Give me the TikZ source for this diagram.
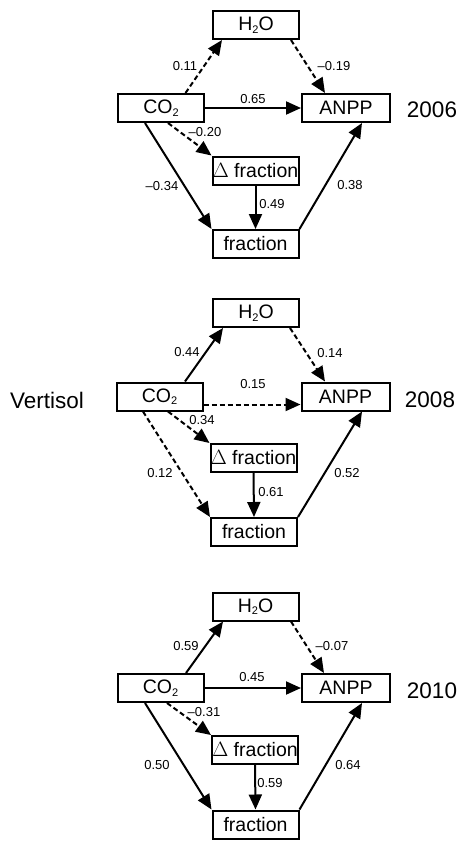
\documentclass[tikz,border=0pt]{standalone}
\usepackage{fontspec}
\setmainfont{Liberation Sans}
\usetikzlibrary{arrows.meta}
\newcommand{\subtwo}{\raisebox{-0.25ex}{\fontsize{11}{11}\selectfont 2}}
\begin{document}
\begin{tikzpicture}[x=1pt,y=-1pt,
  box/.style={draw,line width=2pt,inner sep=0pt,minimum width=86pt,minimum height=28pt,font=\fontsize{19.5}{20}\selectfont},
  lab/.style={font=\fontsize{13}{13}\selectfont,inner sep=0pt},
  yr/.style={font=\fontsize{22.5}{23}\selectfont,inner sep=0pt},
  arr/.style={line width=2pt,-{Triangle[length=15pt,width=13pt]}},
  dsh/.style={arr,dash pattern=on 5pt off 3pt}]
\useasboundingbox (0,0) rectangle (460,841);
% ---------- panel 1 (2006)
\node[box] (a-h2o) at (256,25) {H\subtwo O};
\node[box] (a-co2) at (161,108) {CO\subtwo};
\node[box,minimum width=88pt] (a-anpp) at (346,108) {ANPP};
\node[box] (a-dfr) at (255.5,170.5) {$\Delta$ fraction};
\node[box] (a-fr) at (255.5,244) {fraction};
\node[yr] (a-yr) at (432,110) {2006};
\draw[dsh] ([xshift=24.5pt]a-co2.north) -- ([xshift=-34pt]a-h2o.south);
\draw[dsh] ([xshift=35pt]a-h2o.south) -- ([xshift=-21pt]a-anpp.north);
\draw[arr] (a-co2.east) -- (a-anpp.west);
\draw[dsh] ([xshift=7pt]a-co2.south) -- (a-dfr.north west);
\draw[arr] ([xshift=-16pt]a-co2.south) -- (a-fr.north west);
\draw[arr] (a-dfr.south) -- (a-fr.north);
\draw[arr] (a-fr.north east) -- ([xshift=16pt]a-anpp.south);
\node[lab] (a-l1) at (185,66) {0.11};
\node[lab] (a-l2) at (334,66) {–0.19};
\node[lab] (a-l3) at (253,99) {0.65};
\node[lab] (a-l4) at (205,132) {–0.20};
\node[lab] (a-l5) at (162,186) {–0.34};
\node[lab] (a-l6) at (272,204) {0.49};
\node[lab] (a-l7) at (350,185) {0.38};
% ---------- panel 2 (2008)
\node[box] (b-h2o) at (256,313) {H\subtwo O};
\node[box] (b-co2) at (159.5,396.5) {CO\subtwo};
\node[box,minimum width=88pt] (b-anpp) at (345.5,396.5) {ANPP};
\node[box] (b-dfr) at (253.5,458) {$\Delta$ fraction};
\node[box] (b-fr) at (254,532) {fraction};
\node[yr] (b-yr) at (430,400) {2008};
\node[yr] (b-soil) at (47,400) {Vertisol};
\draw[arr] ([xshift=25.5pt]b-co2.north) -- ([xshift=-33pt]b-h2o.south);
\draw[dsh] ([xshift=34pt]b-h2o.south) -- ([xshift=-20.5pt]b-anpp.north);
\draw[dsh] ([yshift=-8pt]b-co2.east) -- ([yshift=-8pt]b-anpp.west);
\draw[dsh] ([xshift=8.5pt]b-co2.south) -- (b-dfr.north west);
\draw[dsh] ([xshift=-16.5pt]b-co2.south) -- (b-fr.north west);
\draw[arr] (b-dfr.south) -- (b-fr.north);
\draw[arr] (b-fr.north east) -- ([xshift=16.5pt]b-anpp.south);
\node[lab] (b-l1) at (187,352) {0.44};
\node[lab] (b-l2) at (330,353) {0.14};
\node[lab] (b-l3) at (253,384) {0.15};
\node[lab] (b-l4) at (202,420) {0.34};
\node[lab] (b-l5) at (160,473) {0.12};
\node[lab] (b-l6) at (271,492) {0.61};
\node[lab] (b-l7) at (347,473) {0.52};
% ---------- panel 3 (2010)
\node[box] (c-h2o) at (255.5,606.5) {H\subtwo O};
\node[box] (c-co2) at (160.5,688) {CO\subtwo};
\node[box,minimum width=88pt] (c-anpp) at (346,688) {ANPP};
\node[box] (c-dfr) at (255,750) {$\Delta$ fraction};
\node[box] (c-fr) at (255.5,824.5) {fraction};
\node[yr] (c-yr) at (432,691) {2010};
\draw[arr] ([xshift=25.5pt]c-co2.north) -- ([xshift=-32.5pt]c-h2o.south);
\draw[dsh] ([xshift=35.5pt]c-h2o.south) -- ([xshift=-22pt]c-anpp.north);
\draw[arr] (c-co2.east) -- (c-anpp.west);
\draw[dsh] ([xshift=6.5pt]c-co2.south) -- (c-dfr.north west);
\draw[arr] ([xshift=-15.5pt]c-co2.south) -- (c-fr.north west);
\draw[arr] (c-dfr.south) -- (c-fr.north);
\draw[arr] (c-fr.north east) -- ([xshift=16pt]c-anpp.south);
\node[lab] (c-l1) at (186,646) {0.59};
\node[lab] (c-l2) at (332,646) {–0.07};
\node[lab] (c-l3) at (252,677) {0.45};
\node[lab] (c-l4) at (204,712) {–0.31};
\node[lab] (c-l5) at (157,765) {0.50};
\node[lab] (c-l6) at (270,783) {0.59};
\node[lab] (c-l7) at (348,765) {0.64};
\end{tikzpicture}
\end{document}
